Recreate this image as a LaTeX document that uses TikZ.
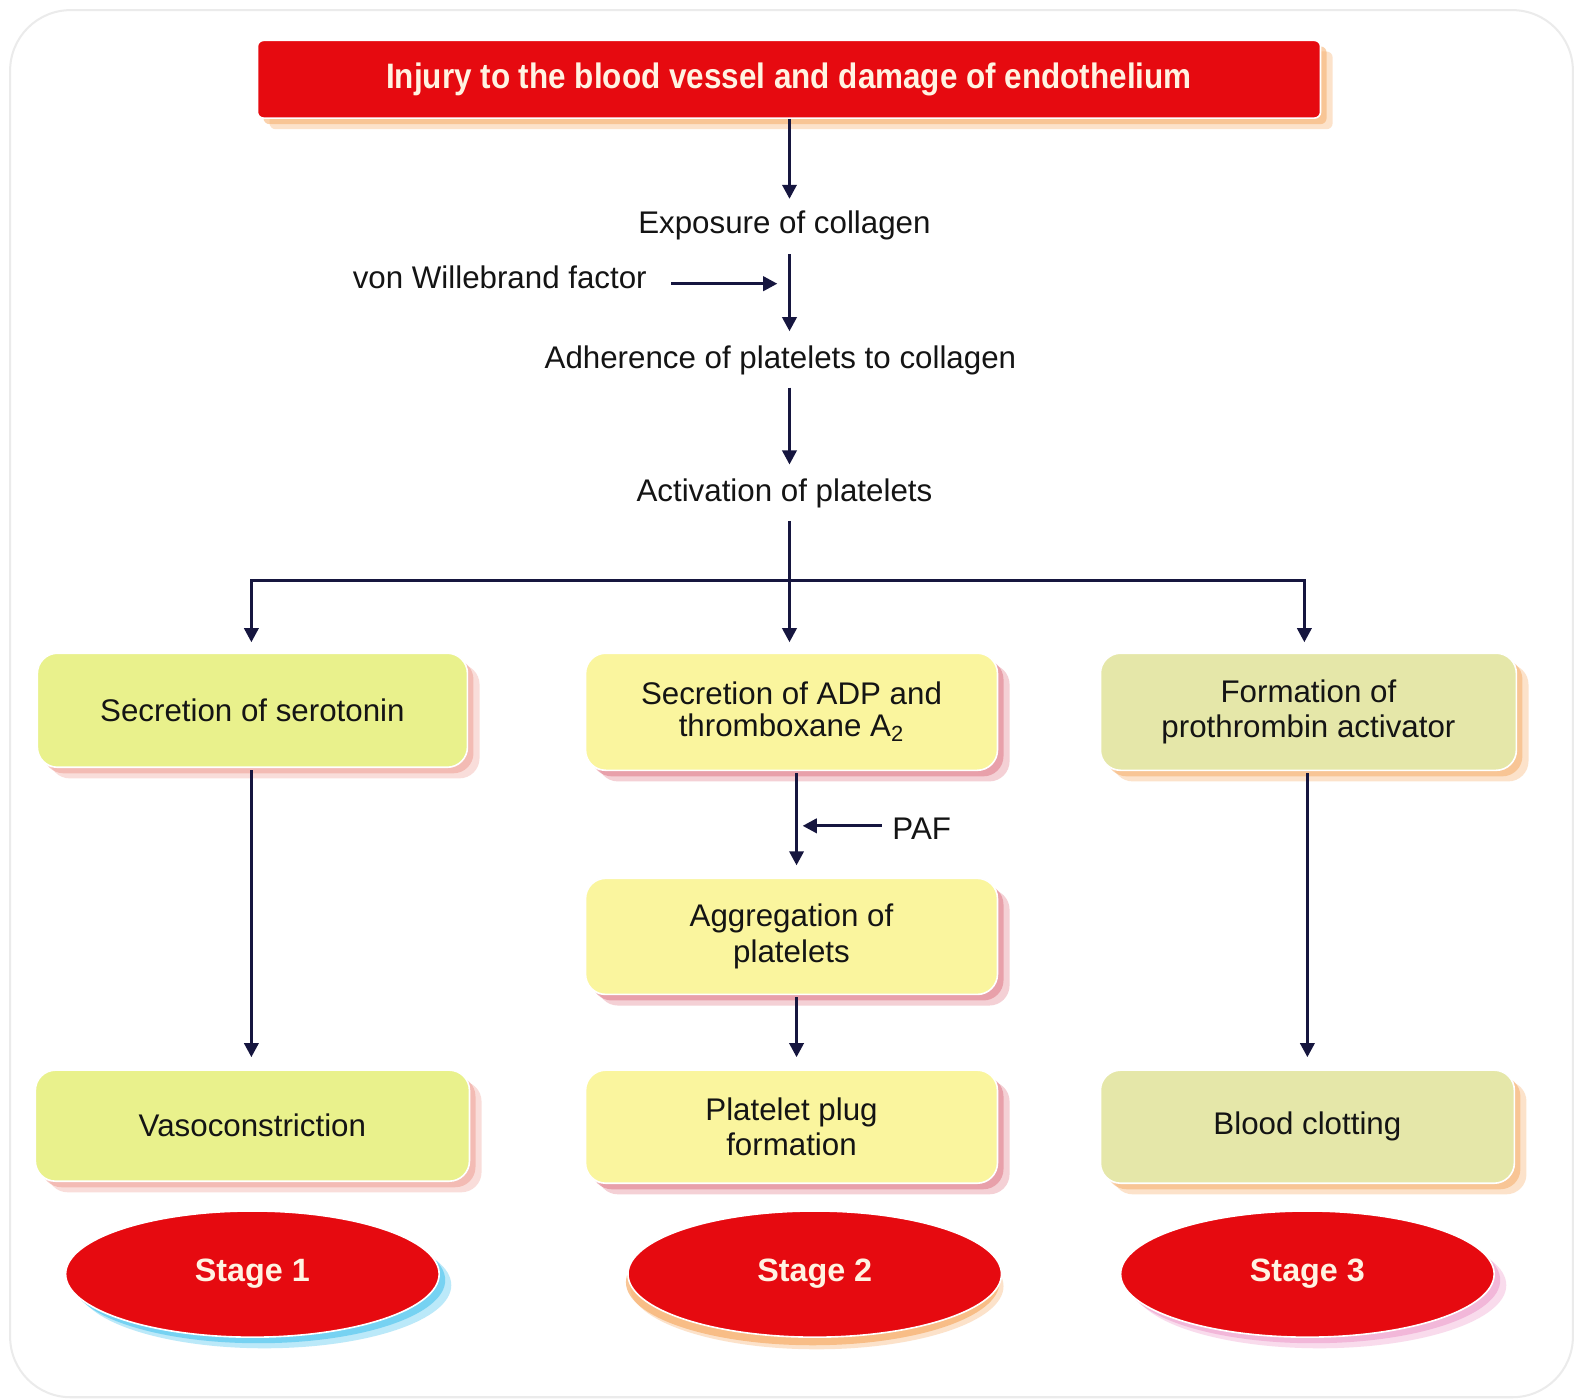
\documentclass[tikz,border=0pt]{standalone}
\usepackage{fontspec}
\setmainfont{Liberation Sans}
\usetikzlibrary{arrows.meta,shapes.geometric,shadows,calc}
\definecolor{redbox}{HTML}{E60A10}
\definecolor{arrowc}{HTML}{16163F}
\definecolor{gbox}{HTML}{E9F18C}
\definecolor{ybox}{HTML}{FAF59E}
\definecolor{kbox}{HTML}{E5E7A9}
\definecolor{txt}{HTML}{141414}
\definecolor{shpink}{HTML}{F0A096}
\definecolor{shred}{HTML}{E07A88}
\definecolor{shorange}{HTML}{F7AE6A}
\definecolor{shcyan}{HTML}{3FC0EE}
\definecolor{shmag}{HTML}{EE9ACB}
\definecolor{titletxt}{HTML}{FFF3E2}
\begin{document}
\begin{tikzpicture}[x=0.5pt,y=-0.5pt,
  every node/.style={font=\fontsize{15.5}{17.5}\selectfont, text=txt},
  arr/.style={draw=arrowc, line width=1.6pt, -{Triangle[length=7pt,width=7pt]}},
  ln/.style={draw=arrowc, line width=1.6pt},
  lbl/.style={inner sep=0pt},
  softshadow/.style={
    general shadow={fill=#1, shadow xshift=3pt, shadow yshift=-3pt, opacity=.55},
    general shadow={fill=#1, shadow xshift=6pt, shadow yshift=-5.5pt, opacity=.35}},
  boxb/.style={rounded corners=10pt, draw=white, line width=0.8pt, align=center, inner sep=4pt},
  stage/.style={ellipse, fill=redbox, draw=white, line width=0.8pt, minimum width=185pt, minimum height=62.5pt, inner sep=0pt,
    text=titletxt, font=\fontsize{16}{18}\selectfont\bfseries}
]
\path[use as bounding box] (0,0) rectangle (1568,1386);
\draw[draw=black!8, fill=white, rounded corners=30pt, line width=1pt] (10,10) rectangle (1558,1384);

% title
\node[boxb, rounded corners=3pt, fill=redbox, softshadow=shorange, minimum width=526.5pt, minimum height=38.5pt,
  text=titletxt, font=\fontsize{17.5}{20}\selectfont\bfseries] (inj) at (781.5,78.5)
  {\scalebox{0.89}[1]{Injury to the blood vessel and damage of endothelium}};

% text labels
\node[lbl] (expo) at (777,223) {Exposure of collagen};
\node[lbl] (vw) at (495,275) {von Willebrand factor};
\node[lbl] (adh) at (773,357) {Adherence of platelets to collagen};
\node[lbl] (act) at (777,489) {Activation of platelets};

% boxes row 1
\node[boxb, fill=gbox, softshadow=shpink, minimum width=213pt, minimum height=56.5pt] (s1) at (250,703.5) {Secretion of serotonin};
\node[boxb, fill=ybox, softshadow=shred, minimum width=204pt, minimum height=58pt, font=\fontsize{15.5}{15.5}\selectfont] (s2) at (784,705) {Secretion of ADP and\\thromboxane A\textsubscript{2}};
\node[boxb, fill=kbox, softshadow=shorange, minimum width=206pt, minimum height=58pt] (s3) at (1296,705) {Formation of\\prothrombin activator};

% middle
\node[boxb, fill=ybox, softshadow=shred, minimum width=204pt, minimum height=57.5pt] (agg) at (784,927.5) {Aggregation of\\platelets};
\node[lbl] (paf) at (913,821) {PAF};

% row 3
\node[boxb, fill=gbox, softshadow=shpink, minimum width=215pt, minimum height=55pt] (vaso) at (250,1115) {Vasoconstriction};
\node[boxb, fill=ybox, softshadow=shred, minimum width=204pt, minimum height=56pt] (plug) at (784,1116) {Platelet plug\\formation};
\node[boxb, fill=kbox, softshadow=shorange, minimum width=205pt, minimum height=56pt] (blood) at (1295,1116) {Blood clotting};

% stages
\node[stage, softshadow=shcyan] (st1) at (250,1262) {Stage 1};
\node[stage, general shadow={fill=shorange, shadow xshift=-1pt, shadow yshift=-4pt, opacity=.7}, general shadow={fill=shorange, shadow xshift=1pt, shadow yshift=-6pt, opacity=.35}] (st2) at (807,1262) {Stage 2};
\node[stage, softshadow=shmag] (st3) at (1295,1262) {Stage 3};

% coordinates
\coordinate (c1) at (782,120);
\coordinate (vwj) at (782,281);
\coordinate (br) at (782,575);
\coordinate (pafj) at (789,818);

% connectors
\draw[arr] (inj.south -| c1) -- (782,197);
\draw[arr] ($(expo.south -| c1)+(0,14)$) -- ($(adh.north -| c1)+(0,-14)$);
\draw[arr, shorten <=12pt, shorten >=6pt] (vw.east |- vwj) -- (vwj);
\draw[arr] ($(adh.south -| c1)+(0,12)$) -- ($(act.north -| c1)+(0,-14)$);
\draw[ln] ($(act.south -| c1)+(0,12)$) -- (br);
\draw[arr, shorten >=5pt] (br) -| (s1.north -| 249,0);
\draw[arr, shorten >=5pt] (br) -- (br |- s2.north);
\draw[arr, shorten >=5pt] (br) -| (s3.north -| 1292,0);

\draw[arr, shorten <=1pt, shorten >=6pt] (s1.south -| 249,0) -- (vaso.north -| 249,0);
\draw[arr, shorten <=1pt, shorten >=6pt] (s2.south -| pafj) -- (agg.north -| pafj);
\draw[arr, shorten <=5pt, shorten >=3pt] (paf.west |- pafj) -- (pafj);
\draw[arr, shorten <=1pt, shorten >=6pt] (agg.south -| pafj) -- (plug.north -| pafj);
\draw[arr, shorten <=1pt, shorten >=6pt] (s3.south -| 1295,0) -- (blood.north -| 1295,0);
\end{tikzpicture}
\end{document}
